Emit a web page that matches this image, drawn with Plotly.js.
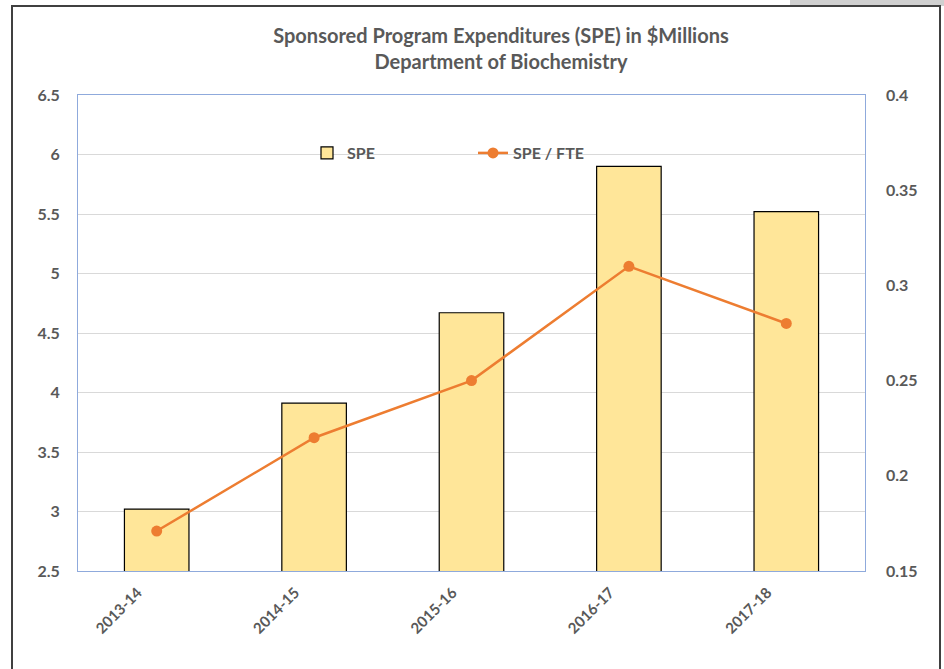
<!DOCTYPE html>
<html>
<head>
<meta charset="utf-8">
<script src="https://cdn.plot.ly/plotly-3.0.1.min.js"></script>
<style>
  html, body { margin: 0; padding: 0; background: #ffffff; }
  #chart { width: 944px; height: 669px; }
</style>
</head>
<body>
<div id="chart"></div>
<script>
const categories = ["2013-14", "2014-15", "2015-16", "2016-17", "2017-18"];
const speValues = [3.02, 3.91, 4.67, 5.90, 5.52];
const speFteValues = [0.171, 0.22, 0.25, 0.31, 0.28];
const leftTicks = [2.5, 3, 3.5, 4, 4.5, 5, 5.5, 6, 6.5];
const rightTicks = [0.15, 0.2, 0.25, 0.3, 0.35, 0.4];

const grey = "#595959";
const fontFam = "Lato, 'Open Sans', sans-serif";

const traces = [
  {
    type: "bar",
    name: "SPE",
    x: categories,
    y: speValues,
    base: 0,
    width: 0.41,
    marker: { color: "#FFE699", line: { color: "#000000", width: 1.2 } },
    yaxis: "y",
    hoverinfo: "x+y"
  },
  {
    type: "scatter",
    mode: "lines+markers",
    name: "SPE / FTE",
    x: categories,
    y: speFteValues,
    line: { color: "#ED7D31", width: 2.5 },
    marker: { color: "#ED7D31", size: 11 },
    yaxis: "y2"
  }
];

const layout = {
  width: 944,
  height: 669,
  margin: { l: 78, r: 79, t: 95, b: 98 },
  paper_bgcolor: "#ffffff",
  plot_bgcolor: "#ffffff",
  font: { family: fontFam, color: grey },
  title: {
    text: "<b>Sponsored Program Expenditures (SPE) in $Millions<br>Department of Biochemistry</b>",
    font: { family: fontFam, size: 20, color: grey },
    x: 501 / 944,
    xref: "container",
    xanchor: "center",
    y: 1 - 43 / 669,
    yref: "container",
    yanchor: "middle"
  },
  bargap: 0.59,
  xaxis: {
    type: "category",
    tickangle: -45,
    tickfont: { family: fontFam, size: 15, color: grey, weight: "bold" },
    showline: true,
    linecolor: "#8FAADC",
    linewidth: 1,
    mirror: true,
    showgrid: false,
    ticks: "",
    zeroline: false,
    ticklabelshift: -19,
    ticklabelstandoff: 6
  },
  yaxis: {
    range: [2.5, 6.5],
    tickvals: leftTicks,
    ticktext: leftTicks.map(String),
    tickfont: { family: fontFam, size: 16, color: grey, weight: "bold" },
    showgrid: true,
    gridcolor: "#D9D9D9",
    gridwidth: 1,
    showline: true,
    linecolor: "#8FAADC",
    linewidth: 1,
    mirror: true,
    zeroline: false,
    ticks: "",
    ticklabelstandoff: 14
  },
  yaxis2: {
    overlaying: "y",
    side: "right",
    range: [0.15, 0.4],
    tickvals: rightTicks,
    ticktext: rightTicks.map(String),
    tickfont: { family: fontFam, size: 16, color: grey, weight: "bold" },
    showgrid: false,
    zeroline: false,
    showline: false,
    ticks: "",
    ticklabelstandoff: 20
  },
  legend: {
    orientation: "h",
    x: (307 - 78) / 787,
    xanchor: "left",
    y: (571 - 153) / 476,
    yanchor: "middle",
    bgcolor: "rgba(0,0,0,0)",
    entrywidth: 121,
    entrywidthmode: "pixels",
    font: { family: fontFam, size: 16, color: grey, weight: "bold" },
    traceorder: "normal"
  },
  showlegend: true,
  shapes: [
    {
      type: "rect", xref: "paper", yref: "paper",
      x0: (790 - 78) / 787, x1: (944 - 78) / 787,
      y0: (571 - 6) / 476, y1: (571 + 2) / 476 + 1,
      fillcolor: "#D0D0D0", line: { width: 0 }, layer: "below"
    },
    {
      type: "rect", xref: "paper", yref: "paper",
      x0: (12 - 78) / 787, x1: (940 - 78) / 787,
      y0: (571 - 700) / 476, y1: (571 - 6) / 476,
      fillcolor: "rgba(0,0,0,0)", line: { color: "#404040", width: 2 }, layer: "above"
    }
  ]
};

Plotly.newPlot("chart", traces, layout, { displayModeBar: false, staticPlot: true });
</script>
</body>
</html>
